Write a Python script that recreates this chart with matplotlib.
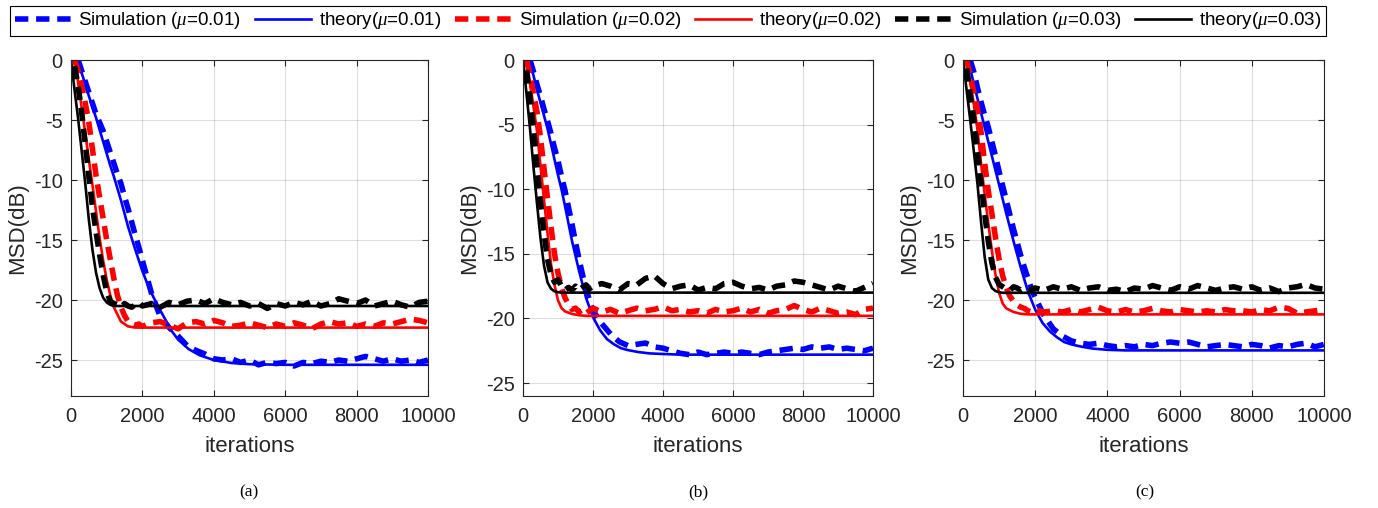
import numpy as np
import matplotlib
matplotlib.use("Agg")
import matplotlib.pyplot as plt

nan = np.nan

# theory curves, sampled on th_x
th_x = [0, 100, 200, 300, 400, 500, 600, 700, 800, 900, 1000, 1100, 1200, 1400, 1600,
        1800, 2000, 2200, 2400, 2600, 2800, 3000, 3300, 3600, 4000, 4500, 5000, 6000, 8000, 10000]

a_th1 = [nan, nan, -0.2, -1.1, -2.0, -3.0, -3.9, -4.8, -5.8, -6.8, -7.8, -8.8, -9.7, -11.7, -13.9,
         -15.8, -17.6, -19.1, -20.3, -21.4, -22.5, -23.3, -24.1, -24.6, -25.0, -25.25, -25.35, -25.4, -25.4, -25.4]
a_th2 = [nan, 0.0, -1.9, -4.0, -6.1, -8.3, -10.4, -12.6, -14.8, -16.7, -18.3, -19.6, -20.6, -21.8, -22.2,
         -22.3, -22.3, -22.3, -22.3, -22.3, -22.3, -22.3, -22.3, -22.3, -22.3, -22.3, -22.3, -22.3, -22.3, -22.3]
a_th3 = [0.0, -2.5, -4.9, -7.6, -10.3, -13.3, -15.8, -17.7, -19.0, -19.8, -20.2, -20.4, -20.5, -20.5, -20.5,
         -20.5, -20.5, -20.5, -20.5, -20.5, -20.5, -20.5, -20.5, -20.5, -20.5, -20.5, -20.5, -20.5, -20.5, -20.5]

b_th1 = [nan, nan, -0.1, -1.2, -2.3, -3.3, -4.3, -5.3, -6.5, -7.7, -8.9, -10.0, -11.3, -14.0, -16.3,
         -18.4, -19.9, -20.9, -21.6, -22.0, -22.3, -22.45, -22.6, -22.7, -22.75, -22.8, -22.8, -22.8, -22.8, -22.8]
b_th2 = [nan, 0.0, -1.8, -3.6, -5.5, -8.2, -10.8, -13.4, -15.8, -17.4, -18.6, -19.2, -19.45, -19.65, -19.75,
         -19.8, -19.8, -19.8, -19.8, -19.8, -19.8, -19.8, -19.8, -19.8, -19.8, -19.8, -19.8, -19.8, -19.8, -19.8]
b_th3 = [0.0, -2.6, -5.3, -8.3, -11.1, -13.8, -15.9, -17.2, -17.7, -17.9, -17.97, -18.0, -18.0, -18.0, -18.0,
         -18.0, -18.0, -18.0, -18.0, -18.0, -18.0, -18.0, -18.0, -18.0, -18.0, -18.0, -18.0, -18.0, -18.0, -18.0]

c_th1 = [nan, nan, -0.7, -2.0, -3.2, -4.4, -5.6, -6.8, -8.0, -9.2, -10.4, -11.6, -12.8, -15.1, -17.3,
         -19.3, -20.8, -21.9, -22.6, -23.1, -23.5, -23.7, -23.9, -24.05, -24.15, -24.2, -24.2, -24.2, -24.2, -24.2]
c_th2 = [nan, 0.0, -1.8, -3.7, -5.8, -8.6, -11.2, -13.6, -15.9, -17.9, -19.4, -20.3, -20.7, -21.0, -21.15,
         -21.2, -21.2, -21.2, -21.2, -21.2, -21.2, -21.2, -21.2, -21.2, -21.2, -21.2, -21.2, -21.2, -21.2, -21.2]
c_th3 = [0.0, -2.5, -5.0, -7.6, -10.3, -13.5, -16.4, -18.3, -19.0, -19.25, -19.35, -19.4, -19.4, -19.4, -19.4,
         -19.4, -19.4, -19.4, -19.4, -19.4, -19.4, -19.4, -19.4, -19.4, -19.4, -19.4, -19.4, -19.4, -19.4, -19.4]

# simulation curves, sampled on sim_x
sim_x = [100, 200, 300, 400, 500, 600, 700, 800, 900, 1000, 1100, 1200, 1300, 1400, 1500, 1600, 1700, 1800, 1900, 2000,
         2250, 2500, 2750, 3000, 3250, 3500, 3750, 4000, 4250, 4500, 4750, 5000, 5250, 5500, 5750, 6000,
         6250, 6500, 6750, 7000, 7250, 7500, 7750, 8000, 8250, 8500, 8750, 9000, 9250, 9500, 9750, 10000]

a_sim1 = [nan, 0.0, -0.9, -1.8, -2.7, -3.6, -4.5, -5.2, -5.9, -6.8, -7.7, -8.6, -9.5, -10.3, -11.4, -12.4, -13.5, -14.6, -15.6, -16.7,
          -19.4, -21.4, -22.3, -23.0, -23.8, -24.2, -24.5, -24.9, -25.0, -24.9, -25.2, -25.0, -25.4, -25.2, -25.3, -25.2,
          -25.5, -25.2, -25.3, -25.1, -25.2, -25.0, -25.1, -24.9, -24.7, -24.9, -25.1, -24.9, -25.1, -25.0, -25.2, -25.0]
a_sim2 = [0.0, -0.9, -2.2, -3.6, -5.2, -7.4, -9.6, -11.4, -13.2, -15.0, -16.6, -18.2, -19.6, -20.6, -21.3, -21.8, -22.0, -22.1, -22.0, -22.2,
          -21.9, -21.8, -22.1, -22.4, -21.9, -21.8, -22.0, -21.7, -21.9, -22.2, -22.1, -21.9, -22.1, -22.3, -22.0, -22.2,
          -21.9, -22.1, -22.4, -22.0, -21.8, -22.0, -21.9, -22.2, -22.0, -22.2, -21.9, -22.0, -21.8, -21.6, -21.7, -21.9]
a_sim3 = [-0.5, -2.2, -4.4, -7.0, -9.7, -12.2, -14.3, -16.2, -17.9, -19.3, -20.1, -20.3, -20.4, -20.6, -20.3, -20.5, -20.6, -20.4, -20.2, -20.5,
          -20.3, -20.6, -20.2, -20.4, -20.1, -20.0, -20.3, -19.9, -20.2, -20.4, -20.2, -20.5, -20.3, -20.7, -20.3, -20.5,
          -20.2, -20.4, -20.1, -20.5, -20.3, -19.9, -20.1, -20.3, -20.0, -20.5, -20.3, -20.1, -20.4, -20.6, -20.2, -20.1]

b_sim1 = [nan, 0.0, -0.9, -1.9, -2.8, -3.8, -4.7, -5.7, -6.8, -7.8, -9.0, -10.1, -11.4, -12.7, -14.1, -15.4, -16.6, -17.7, -18.6, -19.4,
          -20.4, -21.2, -21.8, -22.1, -22.0, -21.9, -22.2, -22.3, -22.5, -22.7, -22.8, -22.6, -22.8, -22.7, -22.6, -22.7,
          -22.6, -22.7, -22.8, -22.6, -22.5, -22.4, -22.3, -22.4, -22.2, -22.3, -22.2, -22.4, -22.3, -22.4, -22.5, -22.3]
b_sim2 = [0.0, -1.2, -2.6, -4.0, -6.0, -8.4, -10.7, -12.9, -15.0, -16.5, -17.6, -18.4, -18.9, -19.3, -19.2, -19.5, -19.3, -19.6, -19.4, -19.2,
          -19.5, -19.3, -19.6, -19.4, -19.2, -19.4, -19.3, -19.1, -19.4, -19.3, -19.5, -19.4, -19.6, -19.3, -19.5, -19.4,
          -19.2, -19.5, -19.3, -19.6, -19.4, -19.3, -19.0, -19.3, -19.5, -19.2, -19.4, -19.6, -19.5, -19.7, -19.3, -19.2]
b_sim3 = [-0.8, -2.9, -5.3, -8.3, -11.0, -13.4, -15.4, -16.6, -17.2, -17.0, -17.5, -17.8, -17.6, -17.8, -17.5, -17.8, -17.6, -17.4, -17.7, -17.5,
          -17.3, -17.5, -17.8, -17.3, -17.4, -16.9, -16.7, -17.3, -17.7, -17.5, -17.4, -17.8, -17.6, -17.7, -17.3, -17.2,
          -17.5, -17.7, -17.6, -17.8, -17.5, -17.4, -17.1, -17.2, -17.4, -17.6, -17.8, -17.5, -17.7, -17.9, -17.6, -17.3]

c_sim1 = [nan, 0.0, -1.0, -2.3, -3.5, -4.6, -5.6, -6.8, -8.0, -9.3, -10.5, -11.7, -12.9, -14.1, -15.2, -16.3, -17.3, -18.2, -19.1, -19.8,
          -21.3, -22.4, -23.0, -23.4, -23.6, -23.7, -23.6, -23.8, -23.9, -23.8, -23.9, -23.7, -23.8, -23.6, -23.5, -23.6,
          -23.5, -23.7, -23.9, -23.8, -23.7, -23.8, -23.9, -23.7, -23.8, -24.0, -23.8, -23.9, -23.7, -23.6, -23.9, -23.7]
c_sim2 = [0.0, -1.3, -2.7, -4.1, -6.0, -8.6, -10.9, -12.8, -14.8, -16.6, -18.0, -19.0, -19.7, -20.1, -20.4, -20.6, -20.7, -20.9, -21.0, -20.8,
          -21.0, -20.9, -21.0, -20.8, -21.0, -20.8, -20.6, -20.9, -21.0, -20.8, -21.0, -20.9, -20.7, -20.9, -21.0, -20.8,
          -20.9, -21.0, -20.9, -21.0, -20.8, -20.9, -20.9, -21.0, -20.8, -20.9, -20.6, -20.7, -21.1, -21.0, -20.9, -20.8]
c_sim3 = [-0.7, -2.9, -5.0, -7.6, -10.2, -12.8, -15.1, -16.9, -18.1, -18.7, -18.9, -19.1, -19.2, -18.9, -19.0, -19.2, -19.0, -19.3, -19.1, -19.0,
          -19.2, -18.9, -19.1, -18.9, -19.2, -19.0, -18.9, -19.2, -19.1, -19.3, -19.0, -19.1, -18.8, -19.0, -19.2, -18.9,
          -19.1, -18.8, -19.0, -19.2, -19.0, -18.9, -19.1, -18.9, -19.2, -19.0, -19.3, -19.0, -18.9, -18.7, -19.0, -19.1]

mus = ["0.01", "0.02", "0.03"]
colors = ["#0000ff", "#ff0000", "#000000"]
captions = ["(a)", "(b)", "(c)"]
ylims = [-28, -26, -28]

panels = [
    ([a_sim1, a_sim2, a_sim3], [a_th1, a_th2, a_th3]),
    ([b_sim1, b_sim2, b_sim3], [b_th1, b_th2, b_th3]),
    ([c_sim1, c_sim2, c_sim3], [c_th1, c_th2, c_th3]),
]

plt.rcParams["font.family"] = ["Liberation Sans", "DejaVu Sans"]
plt.rcParams["mathtext.fontset"] = "custom"
plt.rcParams["mathtext.it"] = "Liberation Serif:italic"
plt.rcParams["axes.unicode_minus"] = False

W, H = 1378, 508
fig = plt.figure(figsize=(W / 100, H / 100), dpi=100)

# axes boxes in pixels: left, right
boxes = [(71, 428), (523, 873), (963, 1324)]
top_px, bot_px = 60, 396
caption_x = [249, 698, 1145]
dark = "#262626"

handles = []
for i, (sims, ths) in enumerate(panels):
    l, r = boxes[i]
    ax = fig.add_axes([l / W, 1 - bot_px / H, (r - l) / W, (bot_px - top_px) / H])
    hs = []
    for k in range(3):
        s, = ax.plot(sim_x, sims[k], color=colors[k], lw=4.0, linestyle=(0, (2.4, 1.4)),
                     dash_capstyle="butt", label="Simulation ($\\mu$=%s)" % mus[k])
        t, = ax.plot(th_x, ths[k], color=colors[k], lw=1.9, label="theory($\\mu$=%s)" % mus[k])
        hs += [s, t]
    if i == 0:
        handles = hs
    ax.set_xlim(0, 10000)
    ax.set_ylim(ylims[i], 0)
    ax.set_xticks([0, 2000, 4000, 6000, 8000, 10000])
    ax.set_yticks([0, -5, -10, -15, -20, -25])
    ax.grid(True, color=dark, alpha=0.15, lw=0.8)
    ax.tick_params(direction="in", length=4, top=True, right=True, labelsize=14.5,
                   colors=dark, labelcolor=dark)
    ax.tick_params(axis="x", pad=8)
    ax.tick_params(axis="y", pad=6)
    for sp in ax.spines.values():
        sp.set_color(dark)
        sp.set_linewidth(0.8)
    ax.set_xlabel("iterations", fontsize=16, color=dark, labelpad=7)
    ax.set_ylabel("MSD(dB)", fontsize=16, color=dark, labelpad=4)
    fig.text(caption_x[i] / W, 1 - 492 / H, captions[i], ha="center", va="center",
             family="Liberation Serif", fontsize=12.5)

leg = fig.legend(handles, [h.get_label() for h in handles], loc="lower left",
                 bbox_to_anchor=(10 / W, 1 - 36 / H, 1316 / W, 32 / H), mode="expand",
                 ncol=6, fontsize=13.5, handlelength=3.0, handletextpad=0.4,
                 borderaxespad=0, borderpad=0.25, fancybox=False, framealpha=1,
                 edgecolor="black")
leg.get_frame().set_linewidth(0.8)

fig.savefig("out.png", dpi=100)
